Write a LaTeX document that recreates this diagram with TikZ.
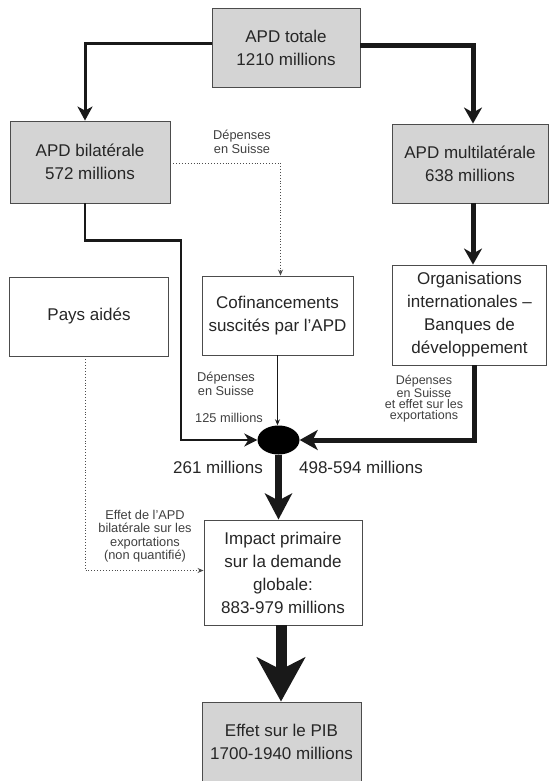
\documentclass[tikz,border=0pt]{standalone}
\usepackage{fontspec}
\setmainfont{Liberation Sans}
\usetikzlibrary{arrows.meta,shapes.geometric}
\newcommand\mainsize{\fontsize{17}{23}\selectfont}
\newcommand\smallsize{\fontsize{12.8}{13.5}\selectfont}
\newcommand\tightsize{\fontsize{12.5}{11.2}\selectfont}
\tikzset{
 graybox/.style={draw=black!70,line width=0.9pt,fill=black!17,text=black!85,align=center,inner sep=0pt,font=\mainsize},
 whitebox/.style={draw=black!70,line width=0.9pt,fill=white,text=black!85,align=center,inner sep=0pt,font=\mainsize},
 lbl/.style={text=black!75,align=center,inner sep=0pt,font=\smallsize},
 amount/.style={text=black!85,inner sep=0pt,font=\mainsize},
 flow/.style={draw=black!90,line width=#1},
 dots/.style={black!70,line width=0.9pt,dotted,-{Stealth[length=6pt,width=5pt]}},
}
\begin{document}
\begin{tikzpicture}[x=1pt,y=-1pt]
\clip (0,0) rectangle (550,781);
\node[graybox,minimum width=148pt,minimum height=79pt] (tot) at (286,47.5) {APD totale\\1210 millions};
\node[graybox,minimum width=160pt,minimum height=82pt] (bil) at (90,162) {APD bilatérale\\572 millions};
\node[graybox,minimum width=156pt,minimum height=79pt] (mul) at (470,163.5) {APD multilatérale\\638 millions};
\node[whitebox,minimum width=159pt,minimum height=79pt] (pays) at (89,316.5) {Pays aidés};
\node[whitebox,minimum width=151pt,minimum height=79pt] (cofi) at (277.5,315.5) {Cofinancements\\suscités par l'APD};
\node[whitebox,minimum width=154pt,minimum height=100pt] (org) at (469.5,315) {Organisations\\internationales –\\Banques de\\développement};
\node[ellipse,fill=black,minimum width=42pt,minimum height=29pt,inner sep=0pt] (pt) at (278.5,440) {};
\node[whitebox,minimum width=158pt,minimum height=105pt] (imp) at (283,572.5) {Impact primaire\\sur la demande\\globale:\\883-979 millions};
\node[graybox,minimum width=159pt,minimum height=80pt] (pib) at (281.5,742) {Effet sur le PIB\\1700-1940 millions};
\draw[flow=3pt,-{Stealth[length=14pt,width=15pt,inset=4pt]}] ([yshift=4pt]tot.west) -| ([xshift=-5pt]bil.north);
\draw[flow=5pt,-{Stealth[length=16pt,width=18pt,inset=5pt]}] ([yshift=2pt]tot.east) -| ([xshift=3pt]mul.north);
\draw[flow=5pt,-{Stealth[length=16pt,width=18pt,inset=5pt]}] ([xshift=3pt]mul.south) -- ([xshift=3.5pt]org.north);
\draw[flow=2.5pt,-{Stealth[length=13pt,width=13pt,inset=4pt]}] ([xshift=-5pt]bil.south) -- ++(0,37) -- ++(96,0) |- (pt.west);
\draw[flow=5pt,-{Stealth[length=18pt,width=20pt,inset=5pt]}] ([xshift=4.5pt]org.south) |- (pt.east);
\draw[dots] ([yshift=-1pt]bil.east) -| ([xshift=3pt]cofi.north);
\draw[flow=1pt,-{Stealth[length=6pt,width=5pt]}] (cofi.south) -- (cofi.south |- pt.north);
\draw[flow=6.5pt,-{Stealth[length=26pt,width=27pt,inset=7pt]}] (pt.south) -- (pt.south |- imp.north);
\draw[flow=11pt,-{Stealth[length=44pt,width=48pt,inset=12pt]}] ([xshift=-2pt]imp.south) -- ([xshift=-0.5pt]pib.north);
\draw[dots] ([xshift=-4pt]pays.south) |- ([yshift=2pt]imp.west);
\node[lbl] (lsuisse) at (242,142) {Dépenses\\en Suisse};
\node[lbl] (lcofi) at (226,384) {Dépenses\\en Suisse};
\node[lbl] (lmio) at (229,418) {125 millions};
\node[lbl,font=\tightsize] (lorg) at (424,399) {Dépenses\\en Suisse\\et effet sur les\\exportations};
\node[amount] (lbil) at (218,467) {261 millions};
\node[amount] (lmul) at (361,467) {498-594 millions};
\node[lbl] (lexp) at (145,536) {Effet de l'APD\\bilatérale sur les\\exportations\\(non quantifié)};
\end{tikzpicture}
\end{document}
